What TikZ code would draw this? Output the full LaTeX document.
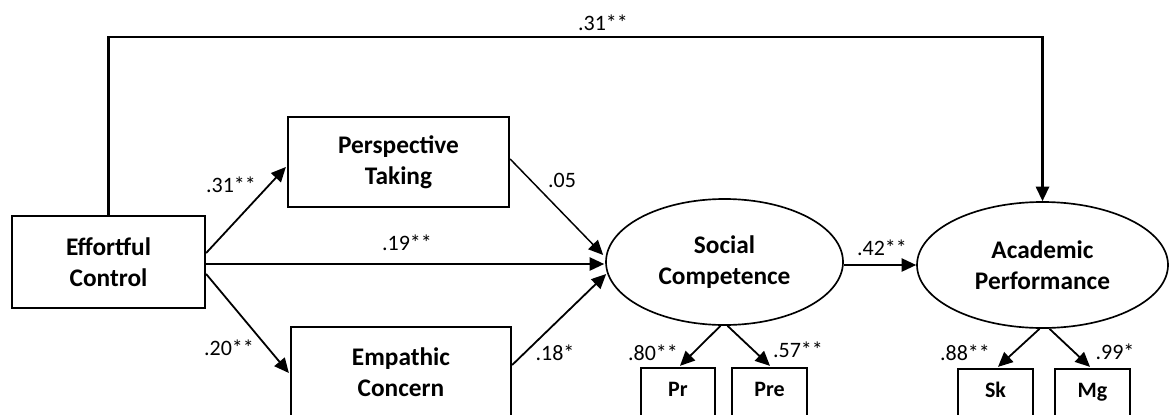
\documentclass[tikz,border=0pt]{standalone}
\usepackage{fontspec}
\setmainfont{Carlito}
\usetikzlibrary{shapes.geometric,arrows.meta,calc}
\begin{document}
\begin{tikzpicture}[x=0.75pt,y=-0.75pt,
  bigbox/.style={draw,rectangle,line width=1.7pt,inner sep=0pt,align=center,
    font=\bfseries\fontsize{19}{23.25}\selectfont},
  latent/.style={draw,ellipse,line width=1.25pt,inner sep=0pt,align=center,
    font=\bfseries\fontsize{19}{23.25}\selectfont},
  indicator/.style={draw,rectangle,line width=1.7pt,inner sep=0pt,
    minimum width=56pt,minimum height=37.5pt,text height=0.7em,text depth=0.2em,
    font=\bfseries\fontsize{16.5}{19}\selectfont},
  path/.style={line width=1.35pt,-{Triangle[length=11pt,width=10pt]}},
  coef/.style={inner sep=0pt,font=\fontsize{16.5}{19}\selectfont}]
\useasboundingbox (0,0) rectangle (1169,414);
\clip (0,0) rectangle (1169,414);

% observed and latent variables
\node[bigbox,minimum width=144.75pt,minimum height=69pt] (ec) at (108.5,262) {Effortful\\Control};
\node[bigbox,minimum width=165.75pt,minimum height=67.5pt] (pt) at (398.5,162) {Perspective\\Taking};
\node[bigbox,minimum width=165pt,minimum height=67.5pt] (emp) at (401,372) {Empathic\\Concern};
\node[latent,minimum width=177.75pt,minimum height=94.5pt] (sc) at (724.5,262) {Social\\Competence};
\node[latent,minimum width=188.25pt,minimum height=94.5pt] (ap) at (1042.5,265) {Academic\\Performance};
\node[indicator] (pr) at (678,393) {Pr};
\node[indicator] (pre) at (769.5,393) {Pre};
\node[indicator] (sk) at (995.5,394) {Sk};
\node[indicator] (mg) at (1092.5,394) {Mg};

% direct path from effortful control to academic performance
\draw[path,line width=1.7pt] (ec.north) -- ++(0,-178) -| (ap.north);

% structural paths
\draw[path] ($(ec.east)+(0,-9)$) -- ($(pt.west)+(-1,5)$);
\draw[path] ($(ec.east)+(0,12)$) -- ($(emp.west)+(-1,1)$);
\draw[path] ($(ec.east)+(0,2)$) -- ($(sc.west)+(-1,2)$);
\draw[path,line width=1.1pt] ($(pt.east)+(0,-3)$) -- ($(sc.west)+(-2,-7)$);
\draw[path] ($(emp.east)+(0,-7)$) -- ($(sc.west)+(1,12)$);
\draw[path] ($(sc.east)+(0,3)$) -- (ap.west);

% measurement paths
\draw[path] ($(sc.south)+(-4,0)$) -- ($(pr.north)+(2,-1)$);
\draw[path] ($(sc.south)+(3,0)$) -- ($(pre.north)+(0.5,-1)$);
\draw[path] ($(ap.south)+(-3,0)$) -- ($(sk.north)+(2.5,-1)$);
\draw[path] ($(ap.south)+(7,0)$) -- ($(mg.north)+(-2.5,-1)$);

% coefficients
\node[coef] (c1) at (603,23) {.31**};
\node[coef] (c2) at (231,185) {.31**};
\node[coef] (c3) at (562,180) {.05};
\node[coef] (c4) at (407,243) {.19**};
\node[coef] (c5) at (229,348) {.20**};
\node[coef] (c6) at (555,353) {.18*};
\node[coef] (c7) at (882,248) {.42**};
\node[coef] (c8) at (653,353) {.80**};
\node[coef] (c9) at (798,350) {.57**};
\node[coef] (c10) at (965,353) {.88**};
\node[coef] (c11) at (1115,352) {.99*};
\end{tikzpicture}
\end{document}
